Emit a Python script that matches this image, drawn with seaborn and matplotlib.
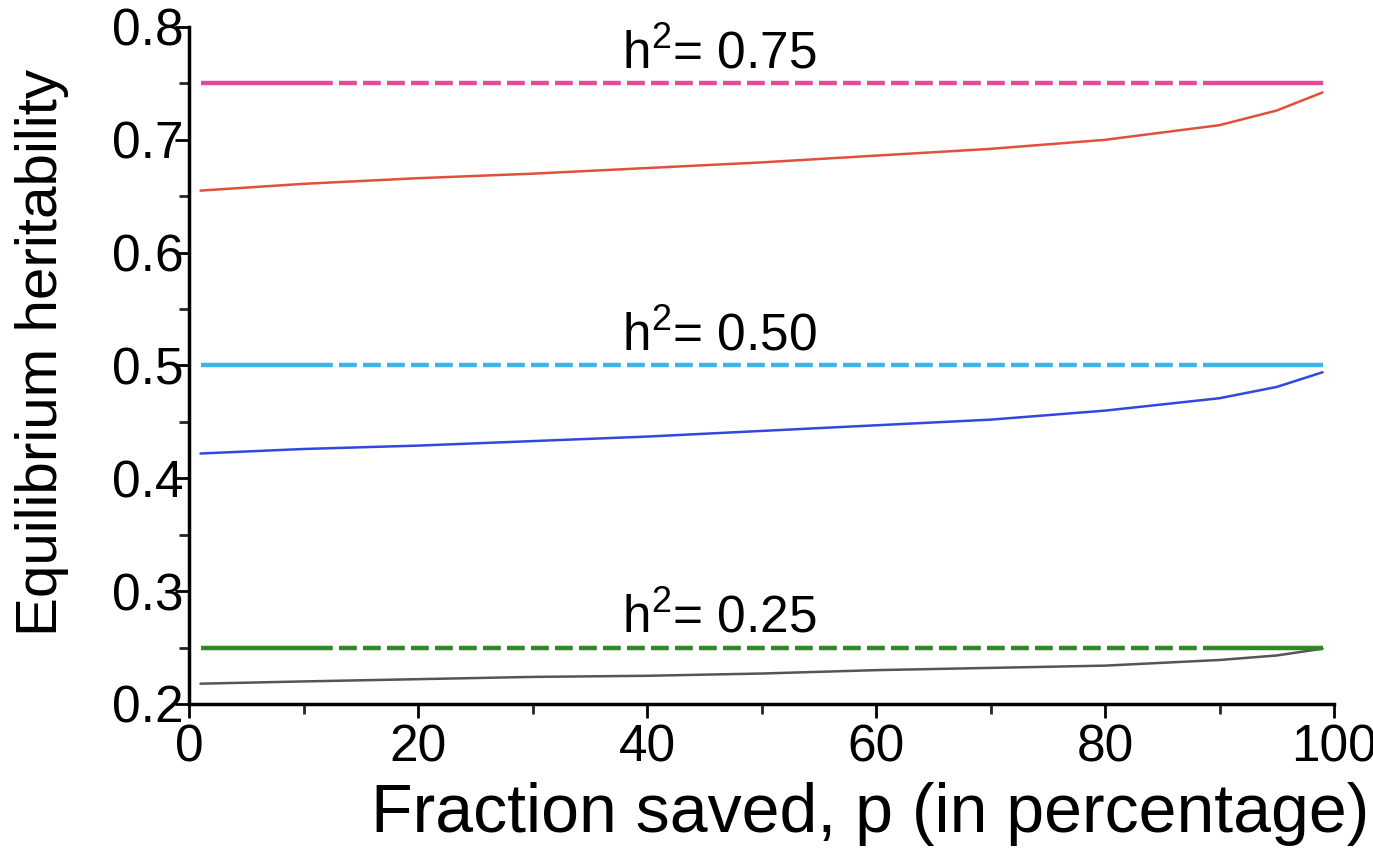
import numpy as np
import pandas as pd
import matplotlib
matplotlib.use("Agg")
import matplotlib.pyplot as plt
import seaborn as sns

# 読み取った値 (fraction saved, %)
p_values = [1, 10, 20, 30, 40, 50, 60, 70, 80, 90, 95, 99]
h2_075 = [0.655, 0.661, 0.666, 0.670, 0.675, 0.680, 0.686, 0.692, 0.700, 0.713, 0.726, 0.742]
h2_050 = [0.422, 0.426, 0.429, 0.433, 0.437, 0.442, 0.447, 0.452, 0.460, 0.471, 0.481, 0.494]
h2_025 = [0.218, 0.220, 0.222, 0.224, 0.225, 0.227, 0.230, 0.232, 0.234, 0.239, 0.243, 0.249]

targets = [0.75, 0.50, 0.25]
target_labels = ["0.75", "0.50", "0.25"]
target_colors = ["#e8489a", "#3fb4e6", "#2f8a25"]
curve_colors = ["#e0503a", "#3048e0", "#555555"]

sns.set_style("ticks")
plt.rcParams['font.family'] = ['Liberation Sans', 'DejaVu Sans']
plt.rcParams['mathtext.fontset'] = 'custom'
plt.rcParams['mathtext.rm'] = 'Liberation Sans'
plt.rcParams['mathtext.it'] = 'Liberation Sans'
plt.rcParams['text.color'] = 'black'
plt.rcParams['axes.labelcolor'] = 'black'

fig = plt.figure(figsize=(13.73, 8.49), dpi=100)
ax = fig.add_axes([0.1377, 0.1708, 0.8339, 0.7974])

df = pd.DataFrame({"p": p_values * 3,
                   "h": h2_075 + h2_050 + h2_025,
                   "series": ["0.75"] * len(p_values) + ["0.50"] * len(p_values) + ["0.25"] * len(p_values)})
sns.lineplot(data=df, x="p", y="h", hue="series", palette=dict(zip(target_labels, curve_colors)),
             linewidth=1.8, legend=False, ax=ax)

for t, lab, c in zip(targets, target_labels, target_colors):
    # 両端は実線、中央は破線
    ax.plot([11, 89], [t, t], color=c, lw=3.2, ls=(0, (4, 1.4)))
    ax.plot([p_values[0], 11], [t, t], color=c, lw=3.2, solid_capstyle='butt')
    ax.plot([89, p_values[-1]], [t, t], color=c, lw=3.2, solid_capstyle='butt')
    ax.text(46.3, t + 0.004, "h$^{2}$= " + lab, fontsize=37, ha='center', va='bottom')

ax.set_xlim(0, 100)
ax.set_ylim(0.2, 0.8)
ax.set_xticks([0, 20, 40, 60, 80, 100])
ax.set_xticks([10, 30, 50, 70, 90], minor=True)
ax.set_yticks([0.2, 0.3, 0.4, 0.5, 0.6, 0.7, 0.8])
ax.set_yticks([0.25, 0.35, 0.45, 0.55, 0.65, 0.75], minor=True)
ax.set_yticklabels(["0.2", "0.3", "0.4", "0.5", "0.6", "0.7", "0.8"])
ax.set_xticklabels(["0", "20", "40", "60", "80", "100"])
ax.tick_params(axis='both', which='major', labelsize=37, width=2, length=10, direction='out', colors='black')
ax.tick_params(axis='both', which='minor', width=2, length=7, direction='out')
ax.tick_params(axis='y', which='major', pad=-6)
ax.tick_params(axis='x', which='major', pad=4)
for side in ['left', 'bottom']:
    ax.spines[side].set_linewidth(2.5)
    ax.spines[side].set_color('black')
sns.despine(ax=ax)

ax.set_xlabel("Fraction saved, p (in percentage)", fontsize=49)
ax.set_ylabel("Equilibrium heritability", fontsize=42)
ax.xaxis.set_label_coords(0.595, -0.115)
ax.yaxis.set_label_coords(-0.105, 0.52)

fig.savefig("out.png", dpi=100)
